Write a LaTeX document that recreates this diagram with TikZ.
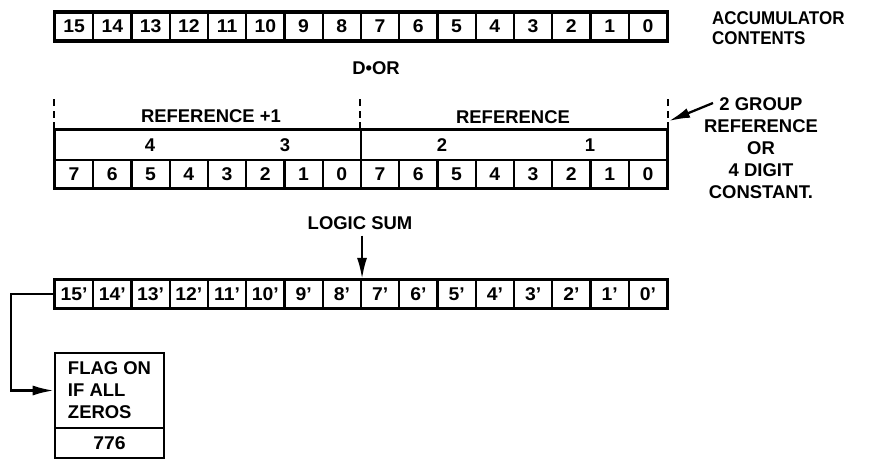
\documentclass[tikz,border=0pt]{standalone}
\usepackage{fontspec}
\setmainfont{Liberation Sans}
\newfontfamily\narrowfont{Liberation Sans}[FakeStretch=0.92]
\newfontfamily\widefont{Liberation Sans}[FakeStretch=1.05]
\usetikzlibrary{arrows.meta, positioning}

\begin{document}
\begin{tikzpicture}[
  x=0.02cm, y=-0.02cm,
  lbl/.style={font=\fontsize{10.5}{12.5}\selectfont\bfseries},
  cell/.style={font=\fontsize{10.5}{12.5}\selectfont\widefont\bfseries,
    draw, line width=1.2pt, minimum width=0.765cm,
    minimum height=0.56cm, inner sep=0pt},
  tick/.style={line width=1.2pt, dash pattern=on 4pt off 2.5pt},
  arr/.style={line width=1.3pt, -{Latex[length=0.42cm, width=0.2cm]}}
]
  \useasboundingbox (0,0) rectangle (871,460);

  % Accumulator contents
  \foreach \k in {0,...,15} {
    \node[cell] (a\k) at ({55+38.25*(15.5-\k)}, 26.5) {\k};
  }
  \draw[line width=1.6pt] (a15.north west) rectangle (a0.south east);
  \node[lbl, anchor=west, align=left, font=\fontsize{10.5}{11.5}\selectfont\narrowfont\bfseries]
    (acc) at (706, 28) {ACCUMULATOR\\CONTENTS};

  \node[lbl] (dor) at (376, 68) {D\textbullet OR};

  % Reference groups
  \node[draw, line width=1.2pt, minimum width=6.12cm,
    minimum height=0.6cm] (hi) at (208, 145) {};
  \node[draw, line width=1.2pt, minimum width=6.12cm,
    minimum height=0.6cm] (lo) at (514, 145) {};
  \node[lbl] (d4) at (150, 145) {4};
  \node[lbl] (d3) at (285, 145) {3};
  \node[lbl] (d2) at (442, 145) {2};
  \node[lbl] (d1) at (590, 145) {1};
  \node[lbl] (refhi) at (211, 116) {REFERENCE +1};
  \node[lbl] (reflo) at (513, 117) {REFERENCE};
  \draw[tick] (hi.north west) -- ++(0,-30);
  \draw[tick] (lo.north west) -- ++(0,-30);
  \draw[tick] (lo.north east) -- ++(0,-30);

  % Reference bytes
  \foreach \i in {0,...,15} {
    \pgfmathtruncatemacro{\d}{mod(15-\i,8)}
    \node[cell] (r\i) at ({55+38.25*(\i+0.5)}, 174) {\d};
  }
  \draw[line width=1.6pt] (hi.north west) rectangle (r15.south east);

  % Note
  \node[lbl, align=center] (note) at (761, 148)
    {2 GROUP\\REFERENCE\\OR\\4 DIGIT\\CONSTANT.};
  \coordinate (notein) at (713, 103);
  \coordinate (tip) at (669, 121);
  \draw[arr] (notein) -- (tip);

  % Logic sum
  \node[lbl] (sum) at (360, 223) {LOGIC SUM};
  \foreach \k in {0,...,15} {
    \node[cell] (b\k) at ({55+38.25*(15.5-\k)}, 294) {\k’};
  }
  \draw[line width=1.6pt] (b15.north west) rectangle (b0.south east);
  \draw[arr] (sum.south -| b8.north east) -- (b8.north east);

  % Zero flag
  \node[lbl, draw, align=left, line width=1.5pt, minimum width=2.18cm,
    minimum height=1.5cm] (flag) at (109.5, 390.5)
    {FLAG ON\\IF ALL\\ZEROS};
  \node[cell, line width=1.5pt, minimum width=2.18cm,
    minimum height=0.6cm] (code) at (109.5, 443) {776};
  \draw[arr] (b15.west) -- ++(-43,0) |- (flag.west);
\end{tikzpicture}
\end{document}
